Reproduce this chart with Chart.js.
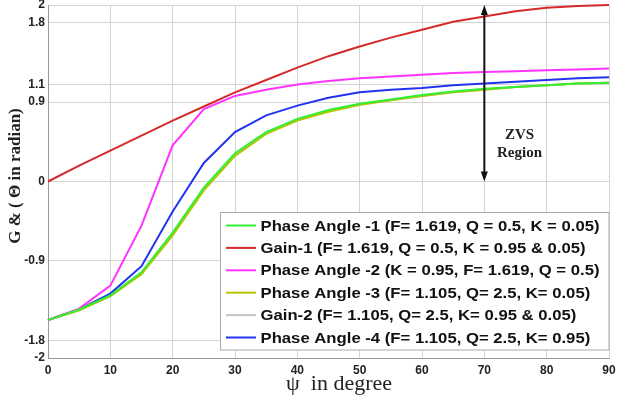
<!DOCTYPE html>
<html>
<head>
<meta charset="utf-8">
<script src="https://cdn.jsdelivr.net/npm/chart.js@4.4.0/dist/chart.umd.min.js"></script>
<style>
html,body{margin:0;padding:0;background:#fff;}
#wrap{width:617px;height:402px;position:relative;}
</style>
</head>
<body>
<div id="wrap"><canvas id="c" width="617" height="402"></canvas></div>
<script>
// ---- data ----
const psi = [0,5,10,15,20,25,30,35,40,45,50,55,60,65,70,75,80,85,90];
const phase1 = [-1.57,-1.45,-1.29,-1.03,-0.58,-0.07,0.32,0.56,0.71,0.81,0.88,0.93,0.98,1.02,1.05,1.07,1.09,1.11,1.12];
const gain1  = [0,0.18,0.35,0.52,0.69,0.85,1.01,1.15,1.29,1.42,1.53,1.63,1.72,1.81,1.87,1.93,1.97,1.99,2.0];
const phase2 = [-1.57,-1.44,-1.18,-0.50,0.41,0.82,0.97,1.04,1.10,1.14,1.17,1.19,1.21,1.23,1.24,1.25,1.26,1.27,1.28];
const phase3 = [-1.57,-1.46,-1.30,-1.05,-0.61,-0.10,0.29,0.54,0.69,0.79,0.87,0.92,0.97,1.01,1.04,1.07,1.09,1.11,1.12];
const gain2  = [-1.57,-1.46,-1.30,-1.04,-0.60,-0.09,0.30,0.55,0.70,0.80,0.87,0.92,0.97,1.01,1.04,1.07,1.09,1.11,1.12];
const phase4 = [-1.57,-1.45,-1.27,-0.96,-0.34,0.21,0.56,0.75,0.86,0.95,1.01,1.04,1.06,1.09,1.11,1.13,1.15,1.17,1.18];
const seriesNames = [
  "Phase Angle -1 (F= 1.619, Q = 0.5, K = 0.05)",
  "Gain-1 (F= 1.619, Q = 0.5, K = 0.95 & 0.05)",
  "Phase Angle -2 (K = 0.95, F= 1.619, Q = 0.5)",
  "Phase Angle -3 (F= 1.105, Q= 2.5, K= 0.05)",
  "Gain-2 (F= 1.105, Q= 2.5, K= 0.95 & 0.05)",
  "Phase Angle -4 (F= 1.105, Q= 2.5, K= 0.95)"
];
const yTicks = [2,1.8,1.1,0.9,0,-0.9,-1.8,-2];
const xTickStep = 10;
const arrowX = 70, arrowTop = 2, arrowBottom = 0;
const zvsText = ["ZVS","Region"];
const yTitle = "G & ( \u0398 in radian)";
const xTitle = "\u03c8  in degree";

const colors = ["#33ee33","#d42a2a","#ff33ff","#b8c400","#c4c4c4","#2233ee"];
const allSeries = [phase1,gain1,phase2,phase3,gain2,phase4];

const datasets = allSeries.map((s,i)=>({
  label: seriesNames[i],
  data: psi.map((x,j)=>({x:x,y:s[j]})),
  borderColor: colors[i],
  backgroundColor: colors[i],
  borderWidth: 2,
  pointRadius: 0,
  tension: 0,
  clip: 4
}));

const extras = {
  id:'extras',
  afterDatasetsDraw(chart){
    const ctx = chart.ctx, xs = chart.scales.x, ys = chart.scales.y;
    const ax = xs.getPixelForValue(arrowX);
    const t = ys.getPixelForValue(arrowTop), b = ys.getPixelForValue(arrowBottom);
    ctx.save();
    ctx.strokeStyle = '#111'; ctx.fillStyle = '#111'; ctx.lineWidth = 2;
    ctx.beginPath(); ctx.moveTo(ax, t+6); ctx.lineTo(ax, b-6); ctx.stroke();
    ctx.beginPath(); ctx.moveTo(ax, t); ctx.lineTo(ax-3.5, t+10); ctx.lineTo(ax+3.5, t+10); ctx.closePath(); ctx.fill();
    ctx.beginPath(); ctx.moveTo(ax, b); ctx.lineTo(ax-3.5, b-10); ctx.lineTo(ax+3.5, b-10); ctx.closePath(); ctx.fill();
    ctx.font = 'bold 15px "Liberation Serif", "DejaVu Serif", serif';
    ctx.textAlign = 'center'; ctx.textBaseline = 'middle';
    ctx.fillStyle = '#222';
    const tx = (ax + xs.getPixelForValue(80))/2 + 4;
    ctx.fillText(zvsText[0], tx, 135);
    ctx.fillText(zvsText[1], tx, 153);
    ctx.restore();
  },
  afterDraw(chart){
    const ctx = chart.ctx, ca = chart.chartArea;
    ctx.save();
    const bx = 220.5, by = 212.5, bw = ca.right - bx, bh = 350 - by;
    ctx.fillStyle = '#fff'; ctx.fillRect(bx, by, bw, bh);
    ctx.strokeStyle = '#aaa'; ctx.lineWidth = 1; ctx.strokeRect(bx, by, bw, bh);
    ctx.font = 'bold 15px "Liberation Sans", Arial, sans-serif';
    let maxW = 0;
    chart.data.datasets.forEach(d=>{ maxW = Math.max(maxW, ctx.measureText(d.label).width); });
    const sx = 339 / maxW;
    chart.data.datasets.forEach((d,i)=>{
      const cy = 225.5 + i*22.4;
      ctx.strokeStyle = d.borderColor; ctx.lineWidth = 2;
      ctx.beginPath(); ctx.moveTo(226, cy); ctx.lineTo(256, cy); ctx.stroke();
      ctx.save();
      ctx.translate(260.5, cy);
      ctx.scale(sx, 1);
      ctx.fillStyle = '#111'; ctx.textAlign = 'left'; ctx.textBaseline = 'middle';
      ctx.fillText(d.label, 0, 1);
      ctx.restore();
    });
    ctx.fillStyle = '#222';
    ctx.font = 'bold 17px "Liberation Serif", "DejaVu Serif", serif';
    ctx.save();
    ctx.translate(16, 176);
    ctx.rotate(-Math.PI/2);
    ctx.textAlign = 'center'; ctx.textBaseline = 'middle';
    ctx.fillText(yTitle, 0, 0);
    ctx.restore();
    ctx.font = '22px "Liberation Serif", "DejaVu Serif", serif';
    ctx.textAlign = 'center'; ctx.textBaseline = 'alphabetic';
    ctx.fillText(xTitle, 339, 390);
    ctx.restore();
  }
};

new Chart(document.getElementById('c'), {
  type: 'line',
  data: { datasets },
  options: {
    responsive: false,
    animation: false,
    devicePixelRatio: 1,
    layout: { padding: { top: 0, right: 0, left: 0, bottom: 0 } },
    plugins: { legend: { display: false }, tooltip: { enabled: false } },
    scales: {
      x: {
        type: 'linear', min: 0, max: 90,
        ticks: { stepSize: xTickStep, color: '#222', padding: 5, maxRotation: 0,
          font: { family: '"Liberation Sans", Arial, sans-serif', weight: 'bold', size: 12 } },
        grid: { color: '#d4d4d4', lineWidth: 1, drawTicks: false },
        border: { color: '#999' },
        afterFit(s){ s.height = 44; s.paddingRight = 8; }
      },
      y: {
        type: 'linear', min: -2, max: 2,
        afterBuildTicks(s){ s.ticks = yTicks.map(v=>({value:v})); },
        ticks: { color: '#222', padding: 3, autoSkip: false,
          callback: v => String(v),
          font: { family: '"Liberation Sans", Arial, sans-serif', weight: 'bold', size: 12 } },
        grid: { color: '#d4d4d4', lineWidth: 1, drawTicks: false },
        border: { color: '#999' },
        afterFit(s){ s.width = 48; s.paddingTop = 5; s.paddingBottom = 0; }
      }
    }
  },
  plugins: [extras]
});
</script>
</body>
</html>
